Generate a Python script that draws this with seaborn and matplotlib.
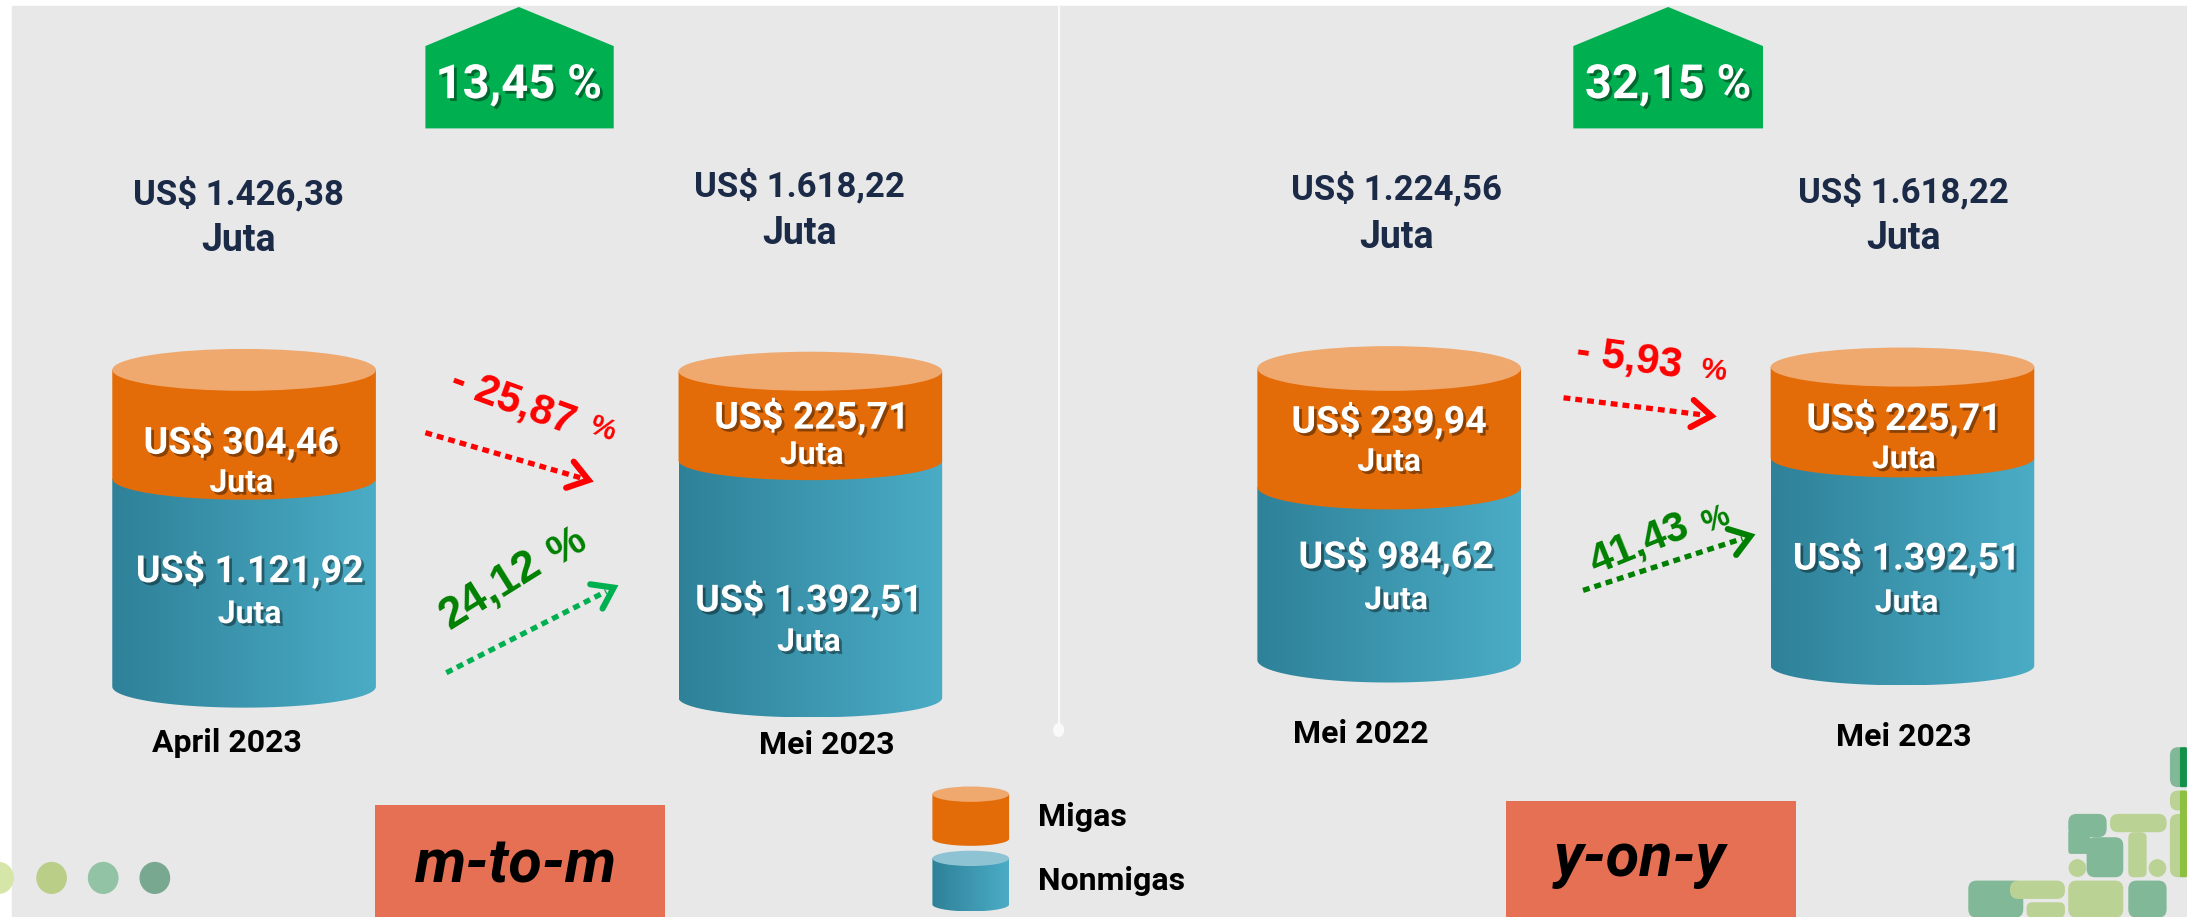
import matplotlib
matplotlib.use('Agg')
import numpy as np
import matplotlib.pyplot as plt
import seaborn as sns
import matplotlib.patheffects as pe
from matplotlib.patches import Polygon, Ellipse, Rectangle, FancyBboxPatch
from matplotlib.colors import LinearSegmentedColormap
from matplotlib import font_manager as fm

# data
periods = ['April 2023', 'Mei 2023', 'Mei 2022', 'Mei 2023']
total = [1426.38, 1618.22, 1224.56, 1618.22]
migas = [304.46, 225.71, 239.94, 225.71]
nonmigas = [1121.92, 1392.51, 984.62, 1392.51]
growth_total = [13.45, 32.15]
growth_migas = [-25.87, -5.93]
growth_nonmigas = [24.12, 41.43]
panels = ['m-to-m', 'y-on-y']
legend_labels = ['Migas', 'Nonmigas']

sns.set_theme(style='white')
names = {f.name for f in fm.fontManager.ttflist}
narrow = 'Liberation Sans Narrow' if 'Liberation Sans Narrow' in names else 'Roboto'
plt.rcParams['font.family'] = [narrow, 'DejaVu Sans']
ARIAL = ['Liberation Sans', 'DejaVu Sans']

ORANGE = '#E36C09'
ORANGE_TOP = '#EFA86D'
NAVY = '#1B2A47'
blue_cmap = LinearSegmentedColormap.from_list('cyl', ['#2E8198', '#4BACC6'])
pal = sns.color_palette([ORANGE, '#3A93AE'])


def idr(v):
    s = f'{v:,.2f}'
    return s.replace(',', 'X').replace('.', ',').replace('X', '.')


def pct(v):
    s = f'{abs(v):.2f}'.replace('.', ',')
    return ('- ' + s) if v < 0 else s


W, H = 1568, 657
fig = plt.figure(figsize=(21.87, 9.17), dpi=100)
fig.patch.set_facecolor('white')
ax = fig.add_axes([0, 0, 1, 1])
ax.add_patch(Rectangle((8.5, 4), W, H, color='#E8E8E8', zorder=0))

shadow = [pe.SimplePatchShadow(offset=(2, -2), shadow_rgbFace='black', alpha=0.4), pe.Normal()]


def body_pts(cx, w, ya, yb, ry):
    t = np.linspace(0, np.pi, 60)
    xs = np.concatenate([[cx - w / 2], cx - w / 2 * np.cos(t), [cx + w / 2]])
    ys = np.concatenate([[ya], yb + ry * np.sin(t), [ya]])
    return np.column_stack([xs, ys])


def blue_body(cx, w, ya, yb, ry, z=2):
    poly = Polygon(body_pts(cx, w, ya, yb, ry), closed=True, facecolor='none', edgecolor='none', zorder=z)
    ax.add_patch(poly)
    grad = np.linspace(0, 1, 256).reshape(1, -1)
    im = ax.imshow(grad, cmap=blue_cmap, extent=(cx - w / 2, cx + w / 2, yb + ry, ya - ry),
                   aspect='auto', zorder=z, interpolation='bilinear')
    im.set_clip_path(poly)


def cylinder(cx, w, ytop, ymid, ybot, ry):
    blue_body(cx, w, ymid, ybot, ry)
    ax.add_patch(Polygon(body_pts(cx, w, ytop, ymid, ry), closed=True, facecolor=pal[0], edgecolor='none', zorder=3))
    ax.add_patch(Ellipse((cx, ytop), w, 2 * ry, facecolor=ORANGE_TOP, edgecolor='none', zorder=4))


def arrow(p0, p1, line_color, head_color):
    p0, p1 = np.array(p0, float), np.array(p1, float)
    d = (p1 - p0) / np.linalg.norm(p1 - p0)
    end = p1 - d * 6
    ax.plot([p0[0], end[0]], [p0[1], end[1]], color=line_color, lw=3.8,
            linestyle=(0, (1.3, 0.95)), dash_capstyle='butt', zorder=5)
    wings = []
    for a in (np.radians(35), -np.radians(35)):
        r = np.array([[np.cos(a), -np.sin(a)], [np.sin(a), np.cos(a)]])
        wings.append(p1 + r @ (-d) * 17)
    ax.plot([wings[0][0], p1[0], wings[1][0]], [wings[0][1], p1[1], wings[1][1]],
            color=head_color, lw=4.4, solid_capstyle='round', solid_joinstyle='miter', zorder=5)


# divider
ax.plot([759, 759], [4, 522], color='#FAFAFA', lw=1.6, zorder=1)
ax.add_patch(Ellipse((759, 523), 7, 9, color='#FAFAFA', zorder=1))

# layout of the two panels
cyl_x = [175, 581, 996, 1364]
cyl_geo = [(265, 343, 492, 15), (266, 330, 500, 14), (264, 349, 473, 16), (263, 328, 477, 14)]
total_pos = [(171, 139, 172), (573, 133, 167), (1001, 135, 170), (1365, 137, 171)]
migas_pos = [(173, 317, 346), (582, 299, 326), (996, 302, 331), (1365, 300, 329)]
non_pos = [(179, 409, 440), (580, 430, 460), (1001, 399, 430), (1367, 400, 432)]
date_pos = [(163, 532), (593, 534), (976, 526), (1365, 528)]

for i in range(4):
    ytop, ymid, ybot, ry = cyl_geo[i]
    cylinder(cyl_x[i], 189, ytop, ymid, ybot, ry)
    x, y1, y2 = total_pos[i]
    ax.text(x, y1, 'US$ ' + idr(total[i]), ha='center', va='center', fontsize=25, fontweight='bold', color=NAVY)
    ax.text(x, y2, 'Juta', ha='center', va='center', fontsize=27, fontweight='bold', color=NAVY)
    x, y1, y2 = migas_pos[i]
    ax.text(x, y1, 'US$ ' + idr(migas[i]), ha='center', va='center', fontsize=27, fontweight='bold',
            color='white', zorder=6, path_effects=shadow)
    ax.text(x, y2, 'Juta', ha='center', va='center', fontsize=23, fontweight='bold',
            color='white', zorder=6, path_effects=shadow)
    x, y1, y2 = non_pos[i]
    ax.text(x, y1, 'US$ ' + idr(nonmigas[i]), ha='center', va='center', fontsize=27, fontweight='bold',
            color='white', zorder=6, path_effects=shadow)
    ax.text(x, y2, 'Juta', ha='center', va='center', fontsize=23, fontweight='bold',
            color='white', zorder=6, path_effects=shadow)
    ax.text(*date_pos[i], periods[i], ha='center', va='center', fontsize=23, fontweight='bold', color='black')

# growth houses
house_x = [(305, 372, 440), (1128, 1196, 1264)]
for (x0, xc, x1), g in zip(house_x, growth_total):
    ax.add_patch(Polygon([(x0, 92), (x0, 33), (xc, 5), (x1, 33), (x1, 92)], closed=True,
                         facecolor='#00B050', edgecolor='none', zorder=3))
    ax.text(xc, 61, pct(g) + ' %', ha='center', va='center', fontsize=34, fontweight='bold',
            color='white', zorder=4, path_effects=shadow)

# change arrows
arrow((305, 310), (422, 344), '#FF0000', '#FF0000')
ax.text(368, 288, pct(growth_migas[0]), rotation=-20, ha='center', va='center', fontsize=30,
        fontweight='bold', color='#FF0000', family=ARIAL, rotation_mode='anchor')
ax.text(432, 307, '%', rotation=-20, ha='center', va='center', fontsize=21,
        fontweight='bold', color='#FF0000', family=ARIAL, rotation_mode='anchor')
arrow((320, 482), (440, 421), '#00B050', '#00B050')
ax.text(352, 423, pct(growth_nonmigas[0]), rotation=32, ha='center', va='center', fontsize=32,
        fontweight='bold', color='#008000', family=ARIAL, rotation_mode='anchor')
ax.text(407, 392, '%', rotation=32, ha='center', va='center', fontsize=30,
        fontweight='bold', color='#008000', family=ARIAL, rotation_mode='anchor')

arrow((1121, 285), (1227, 298), '#FF0000', '#FF0000')
ax.text(1168, 257, pct(growth_migas[1]), rotation=-8, ha='center', va='center', fontsize=30,
        fontweight='bold', color='#FF0000', family=ARIAL, rotation_mode='anchor')
ax.text(1228, 266, '%', rotation=-8, ha='center', va='center', fontsize=21,
        fontweight='bold', color='#FF0000', family=ARIAL, rotation_mode='anchor')
arrow((1135, 423), (1255, 384), '#008000', '#008000')
ax.text(1175, 390, pct(growth_nonmigas[1]), rotation=22, ha='center', va='center', fontsize=30,
        fontweight='bold', color='#008000', family=ARIAL, rotation_mode='anchor')
ax.text(1230, 373, '%', rotation=22, ha='center', va='center', fontsize=22,
        fontweight='bold', color='#008000', family=ARIAL, rotation_mode='anchor')

# panel boxes
for (x0, x1, y0, tx, ty), name in zip([(269, 477, 577, 370, 620), (1080, 1288, 574, 1176, 616)], panels):
    ax.add_patch(Rectangle((x0, y0), x1 - x0, H - y0, facecolor='#E57053', edgecolor='none', zorder=2))
    ax.text(tx, ty, name, ha='center', va='center', fontsize=44, fontweight='bold', style='italic',
            color='black', zorder=3)

# legend
ax.add_patch(Polygon(body_pts(696, 55, 569, 601, 5), closed=True, facecolor=pal[0], edgecolor='none', zorder=3))
ax.add_patch(Ellipse((696, 569), 55, 11, facecolor=ORANGE_TOP, edgecolor='none', zorder=4))
blue_body(696, 55, 615, 648, 5, z=3)
ax.add_patch(Ellipse((696, 615), 55, 11, facecolor='#8DC3D2', edgecolor='none', zorder=4))
ax.text(744, 585, legend_labels[0], ha='left', va='center', fontsize=23, fontweight='bold', color='black')
ax.text(744, 631, legend_labels[1], ha='left', va='center', fontsize=23, fontweight='bold', color='black')

# decorative dots
for x, c in zip([-1, 37, 74, 111], ['#D6E6A8', '#BACE88', '#92C3A4', '#79A890']):
    ax.add_patch(Ellipse((x, 629), 21, 22, color=c, zorder=2))


# logo (approximate)
def zrect(zx0, zy0, zx1, zy1, color, r=6):
    x0, y0 = (1950 + zx0 / 3) / 1.3948, (730 + zy0 / 3) / 1.3948
    x1, y1 = (1950 + zx1 / 3) / 1.3948, (730 + zy1 / 3) / 1.3948
    ax.add_patch(FancyBboxPatch((x0, y0), x1 - x0, y1 - y0, boxstyle=f'round,pad=0,rounding_size={r}',
                                facecolor=color, edgecolor='none', zorder=2))


LG, MG, DG, YG = '#BBD295', '#80B898', '#13904A', '#8DC040'
zrect(355, 250, 470, 320, MG)
zrect(355, 300, 420, 370, MG, 2)
zrect(410, 320, 520, 440, MG)
zrect(355, 385, 410, 440, LG, 8)
zrect(480, 250, 650, 305, LG)
zrect(535, 305, 590, 440, LG, 4)
zrect(595, 385, 650, 440, LG, 8)
zrect(660, 50, 711, 170, MG)
zrect(690, 50, 711, 170, DG, 1)
zrect(660, 180, 711, 240, LG)
zrect(660, 250, 711, 440, LG)
zrect(690, 180, 711, 440, YG, 1)
zrect(55, 450, 220, 561, MG)
zrect(180, 450, 345, 505, LG)
zrect(230, 515, 345, 561, LG, 4)
zrect(355, 450, 520, 561, LG)
zrect(535, 450, 650, 561, MG)

ax.set_xlim(0, W)
ax.set_ylim(H, 0)
ax.axis('off')
fig.savefig('out.png', dpi=100, facecolor=fig.get_facecolor())
